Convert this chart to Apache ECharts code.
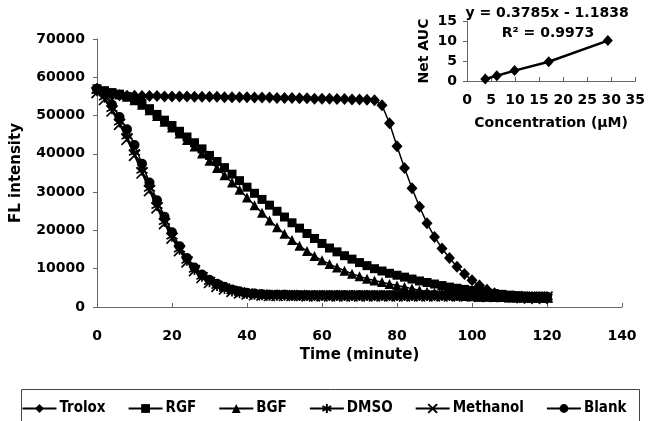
<!DOCTYPE html>
<html>
<head>
<meta charset="utf-8">
<script src="https://cdn.jsdelivr.net/npm/echarts@6/dist/echarts.min.js"></script>
<style>html,body{margin:0;padding:0;background:#fff}#c{width:648px;height:421px}</style>
</head>
<body>
<div id="c"></div>
<script>
// Time (minute)
var time = [0,2,4,6,8,10,12,14,16,18,20,22,24,26,28,30,32,34,36,38,40,42,44,46,48,50,52,54,56,58,60,62,64,66,68,70,72,74,76,78,80,82,84,86,88,90,92,94,96,98,100,102,104,106,108,110,112,114,116,118,120];
var trolox = [57000,55800,55300,55300,55200,55200,55100,55100,55100,55000,55000,55000,55000,54900,54900,54900,54900,54800,54800,54800,54800,54700,54700,54700,54600,54600,54600,54500,54500,54400,54400,54400,54300,54300,54200,54200,54100,54000,52700,48000,42000,36300,31000,26200,21900,18300,15300,12800,10500,8600,7000,5600,4500,3600,3000,2600,2400,2300,2200,2200,2200];
var rgf = [57000,56500,56000,55600,55000,54300,53200,51800,50300,48800,47400,45900,44400,42900,41300,39600,38000,36400,34700,33000,31300,29700,28100,26600,25000,23500,22000,20600,19200,17900,16600,15400,14400,13400,12500,11600,10800,10000,9400,8800,8300,7800,7300,6800,6400,6000,5600,5200,4900,4600,4300,4000,3700,3500,3300,3100,2900,2800,2700,2600,2500];
var bgf = [57000,56500,56000,55500,54900,54000,52800,51400,49900,48400,46900,45300,43600,41900,40100,38200,36300,34400,32500,30600,28600,26600,24600,22600,20800,19100,17500,16000,14600,13300,12200,11200,10300,9500,8700,8000,7400,6900,6500,6000,5600,5200,4800,4400,4000,3700,3400,3200,3000,2900,2800,2700,2700,2600,2600,2500,2500,2500,2400,2400,2400];
var dmso = [56500,54800,51800,48300,44600,40400,35700,31000,26500,22300,18500,15100,12200,9800,8000,6600,5600,4800,4200,3800,3500,3300,3200,3100,3100,3100,3000,3000,3000,3000,3000,3000,3000,3000,3000,3000,3000,3000,3000,3000,3000,3000,3000,3000,3000,3000,3000,3000,3000,3000,3000,2900,2900,2800,2800,2700,2700,2600,2600,2600,2600];
var methanol = [56000,54200,51200,47700,43800,39600,35000,30400,25900,21800,18000,14700,11800,9500,7700,6400,5400,4700,4100,3700,3400,3200,3100,3000,3000,3000,3000,3000,2900,2900,2900,2900,2900,2900,2900,2900,2900,2900,2900,2900,2900,2900,2900,2900,2900,2900,2900,2900,2900,2900,2900,2800,2800,2800,2700,2700,2700,2600,2600,2600,2600];
var blank = [57000,55600,52800,49600,46400,42300,37400,32500,27900,23600,19500,15900,12800,10300,8500,7100,6100,5300,4600,4100,3700,3500,3300,3200,3200,3200,3100,3100,3100,3100,3100,3100,3100,3100,3100,3100,3100,3100,3100,3100,3100,3100,3100,3100,3100,3100,3100,3100,3100,3100,3100,3000,3000,2900,2900,2800,2800,2700,2700,2700,2700];
// Inset: concentration (uM) vs Net AUC
var conc = [3.8, 6.2, 9.9, 17.0, 29.3];
var netAUC = [0.5, 1.3, 2.6, 4.8, 10.1];
var xTicks = [0,20,40,60,80,100,120,140];
var yTicks = [0,10000,20000,30000,40000,50000,60000,70000];

function pairs(xs, ys){ return xs.map(function(x,i){ return [x, ys[i]]; }); }

var FONT = 'DejaVu Sans';
var AST = 'path://M0,-5L0,5M-4.6,-2.6L4.6,2.6M-4.6,2.6L4.6,-2.6';
var XS = 'path://M-5,-5L5,5M-5,5L5,-5';

function mk(name, data, symbol, size, stroke){
  return {
    name: name, type: 'line', data: data, xAxisIndex: 0, yAxisIndex: 0,
    symbol: symbol, symbolSize: size, showSymbol: true, animation: false,
    lineStyle: {color: '#000', width: 1.5},
    itemStyle: stroke ? {color: '#000', borderColor: '#000', borderWidth: 1.7} : {color: '#000', borderWidth: 0}
  };
}

var chart = echarts.init(document.getElementById('c'), null, {renderer: 'canvas'});
chart.setOption({
  backgroundColor: '#fff',
  animation: false,
  textStyle: {fontFamily: FONT, fontWeight: 'bold', color: '#000'},
  grid: [
    {left: 97, right: 26, top: 39, bottom: 114},
    {left: 467, top: 21, width: 171, height: 60}
  ],
  xAxis: [
    {type: 'value', gridIndex: 0, min: 0, max: 140, interval: 20,
     name: 'Time (minute)', nameLocation: 'middle', nameGap: 40,
     nameTextStyle: {fontSize: 15, fontWeight: 'bold', fontFamily: FONT, color: '#000'},
     axisLine: {lineStyle: {color: '#666', width: 1}},
     axisTick: {inside: true, length: 4, lineStyle: {color: '#666'}},
     axisLabel: {fontSize: 14, fontWeight: 'bold', fontFamily: FONT, color: '#000', margin: 22,
       formatter: function(v){ return xTicks.indexOf(v) >= 0 ? String(v) : ''; }},
     splitLine: {show: false}},
    {type: 'value', gridIndex: 1, min: 0, max: 35, interval: 5,
     name: 'Concentration (\u03bcM)', nameLocation: 'middle', nameGap: 35,
     nameTextStyle: {fontSize: 14, fontWeight: 'bold', fontFamily: FONT, color: '#000'},
     axisLine: {lineStyle: {color: '#666', width: 1}},
     axisTick: {inside: true, length: 4, lineStyle: {color: '#666'}},
     axisLabel: {fontSize: 14, fontWeight: 'bold', fontFamily: FONT, color: '#000', margin: 12},
     splitLine: {show: false}}
  ],
  yAxis: [
    {type: 'value', gridIndex: 0, min: 0, max: 70000, interval: 10000,
     name: 'FL intensity', nameLocation: 'middle', nameGap: 73,
     nameTextStyle: {fontSize: 15, fontWeight: 'bold', fontFamily: FONT, color: '#000'},
     axisLine: {show: true, lineStyle: {color: '#666', width: 1}},
     axisTick: {show: true, length: 4, lineStyle: {color: '#666'}},
     axisLabel: {fontSize: 14, fontWeight: 'bold', fontFamily: FONT, color: '#000', margin: 12,
       formatter: function(v){ return yTicks.indexOf(v) >= 0 ? String(v) : ''; }},
     splitLine: {show: false}},
    {type: 'value', gridIndex: 1, min: 0, max: 15, interval: 5,
     name: 'Net AUC', nameLocation: 'middle', nameGap: 36,
     nameTextStyle: {fontSize: 14, fontWeight: 'bold', fontFamily: FONT, color: '#000'},
     axisLine: {show: true, lineStyle: {color: '#666', width: 1}},
     axisTick: {show: true, length: 4, lineStyle: {color: '#666'}},
     axisLabel: {fontSize: 14, fontWeight: 'bold', fontFamily: FONT, color: '#000', margin: 10},
     splitLine: {show: false}}
  ],
  legend: {
    top: 396, left: 'center', itemWidth: 34, itemHeight: 11, itemGap: 22,
    textStyle: {fontSize: 15, fontWeight: 'bold', fontFamily: 'DejaVu Sans Condensed, DejaVu Sans', color: '#000', padding: [0,0,0,-2]},
    data: ['Trolox','RGF','BGF','DMSO','Methanol','Blank']
  },
  graphic: [
    {type: 'rect', shape: {x: 21.5, y: 389.5, width: 618, height: 40}, style: {fill: 'none', stroke: '#444', lineWidth: 1}, silent: true, z: -1},
    {type: 'text', x: 547, y: 13, style: {text: 'y = 0.3785x - 1.1838', font: 'bold 14px "DejaVu Sans"', fill: '#000', textAlign: 'center', textVerticalAlign: 'middle'}},
    {type: 'text', x: 548, y: 33, style: {text: 'R\u00b2 = 0.9973', font: 'bold 14px "DejaVu Sans"', fill: '#000', textAlign: 'center', textVerticalAlign: 'middle'}}
  ],
  series: [
    mk('Trolox', pairs(time, trolox), 'diamond', [11, 12], false),
    mk('RGF', pairs(time, rgf), 'rect', 9, false),
    mk('BGF', pairs(time, bgf), 'triangle', 10, false),
    mk('DMSO', pairs(time, dmso), AST, 11, true),
    mk('Methanol', pairs(time, methanol), XS, 11, true),
    mk('Blank', pairs(time, blank), 'circle', 10, false),
    {name: 'NetAUC', type: 'line', xAxisIndex: 1, yAxisIndex: 1, data: pairs(conc, netAUC),
     symbol: 'diamond', symbolSize: [10, 11], lineStyle: {color: '#000', width: 2.5}, itemStyle: {color: '#000'}, animation: false}
  ]
});
</script>
</body>
</html>
